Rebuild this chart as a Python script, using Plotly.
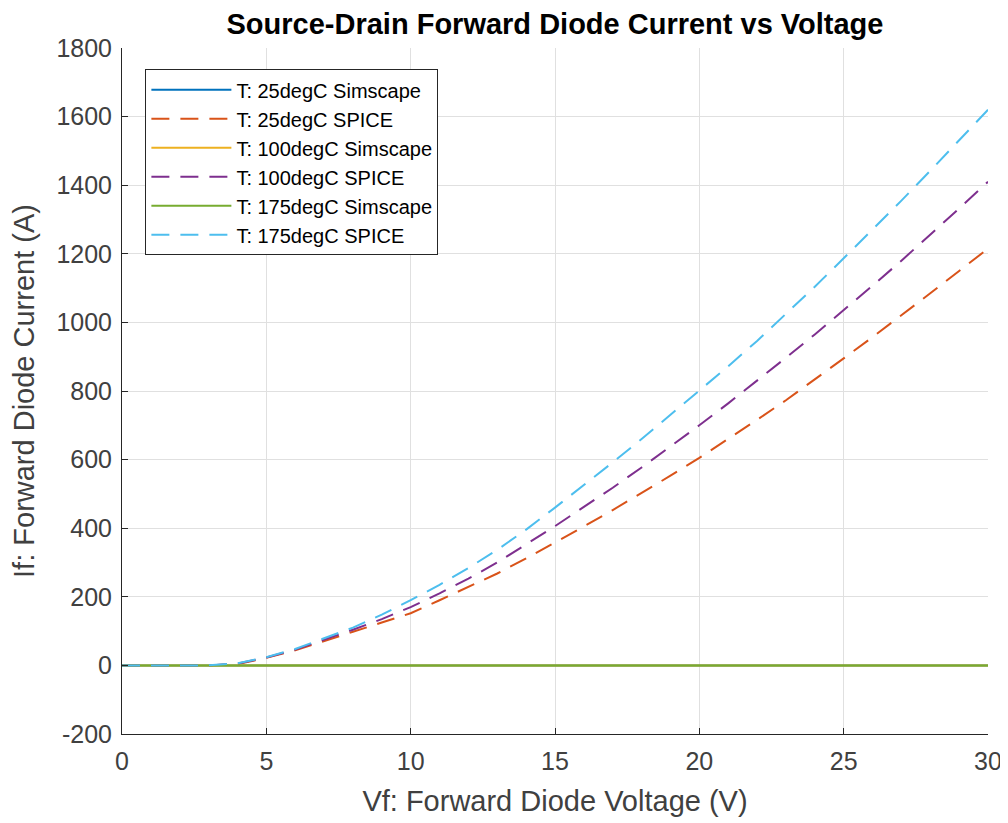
import plotly.graph_objects as go

vf = list(range(0, 31))
if_25_spice = [0, 0, 0, 0, 4, 22, 44, 70, 98, 125, 152, 190, 228, 268, 312, 358, 405, 453, 502, 553, 605,
               660, 716, 773, 833, 895, 957, 1020, 1085, 1150, 1215]
if_100_spice = [0, 0, 0, 0, 5, 23, 46, 74, 104, 135, 170, 210, 253, 300, 352, 406, 462, 518, 577, 638, 700,
                764, 830, 897, 965, 1035, 1107, 1180, 1255, 1332, 1410]
if_175_spice = [0, 0, 0, 0, 6, 24, 48, 78, 110, 148, 190, 235, 284, 337, 396, 460, 525, 592, 660, 730, 800,
                872, 946, 1024, 1104, 1187, 1270, 1355, 1442, 1530, 1620]
if_25_sim = [0] * 31
if_100_sim = [0] * 31
if_175_sim = [0] * 31

x_ticks = [0, 5, 10, 15, 20, 25, 30]
x_tick_labels = ["0", "5", "10", "15", "20", "25", "30"]
y_ticks = [-200, 0, 200, 400, 600, 800, 1000, 1200, 1400, 1600, 1800]
y_tick_labels = ["-200", "0", "200", "400", "600", "800", "1000", "1200", "1400", "1600", "1800"]

series = [
    ("T: 25degC Simscape", if_25_sim, "#0072BD", "solid"),
    ("T: 25degC SPICE", if_25_spice, "#D95319", "18px,11px"),
    ("T: 100degC Simscape", if_100_sim, "#EDB120", "solid"),
    ("T: 100degC SPICE", if_100_spice, "#7E2F8E", "18px,11px"),
    ("T: 175degC Simscape", if_175_sim, "#77AC30", "solid"),
    ("T: 175degC SPICE", if_175_spice, "#4DBEEE", "18px,11px"),
]

fig = go.Figure()
for name, ys, color, dash in series:
    fig.add_trace(go.Scatter(x=vf, y=ys, mode="lines", name=name,
                             line=dict(color=color, width=2, dash=dash)))

W, H = 1000, 815
font_family = "Liberation Sans, Arial, Helvetica, sans-serif"
fig.update_layout(
    template="none",
    width=W, height=H,
    paper_bgcolor="white", plot_bgcolor="white",
    margin=dict(l=114, r=20, t=40, b=89, pad=0),
    font=dict(family=font_family, color="#262626"),
    title=dict(text="<b>Source-Drain Forward Diode Current vs Voltage</b>",
               x=0.5, xanchor="center", xref="paper", y=1 - 16 / H, yanchor="middle",
               font=dict(size=29, color="#000000", family=font_family)),
    legend=dict(x=0.027, y=0.969, xanchor="left", yanchor="top",
                bgcolor="white", bordercolor="#262626", borderwidth=1,
                itemwidth=80,
                font=dict(size=20, color="#000000"), tracegroupgap=0),
    showlegend=True,
)
fig.update_xaxes(range=[0, 30], tickvals=x_ticks, ticktext=x_tick_labels, ticks="inside", ticklen=6,
                 tickcolor="#262626", showline=True, linecolor="#262626", linewidth=1,
                 showgrid=True, gridcolor="#e0e0e0", gridwidth=1, zeroline=False,
                 automargin=False, ticklabelstandoff=5,
                 tickfont=dict(size=25, color="#404040"),
                 title=dict(text="Vf: Forward Diode Voltage (V)", font=dict(size=29, color="#404040"), standoff=16))
fig.update_yaxes(range=[-200, 1800], tickvals=y_ticks, ticktext=y_tick_labels, ticks="inside", ticklen=6,
                 tickcolor="#262626", showline=True, linecolor="#262626", linewidth=1,
                 showgrid=True, gridcolor="#e0e0e0", gridwidth=1, zeroline=False,
                 automargin=False, ticklabelstandoff=4,
                 tickfont=dict(size=25, color="#404040"),
                 title=dict(text="If: Forward Diode Current (A)", font=dict(size=29, color="#404040"), standoff=17))

fig.write_html("out.html")
